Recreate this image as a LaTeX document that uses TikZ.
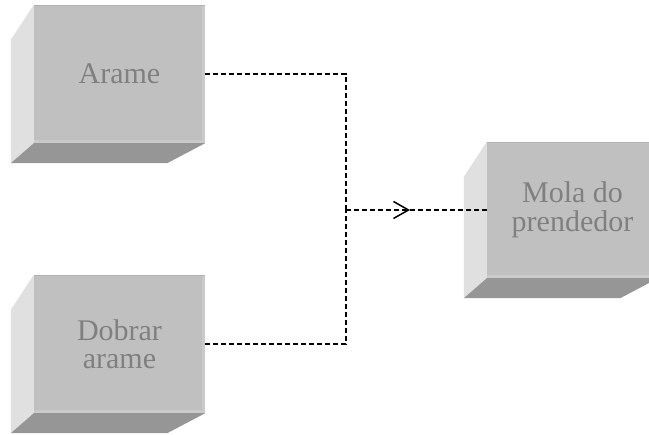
\documentclass[tikz,border=0pt]{standalone}
\usepackage{fontspec}
\setmainfont{Liberation Serif}
\usetikzlibrary{arrows.meta}
\definecolor{frontgray}{RGB}{192,192,192}
\definecolor{rimgray}{RGB}{202,202,202}
\definecolor{topgray}{RGB}{178,178,178}
\definecolor{sidegray}{RGB}{224,224,224}
\definecolor{basegray}{RGB}{150,150,150}
\definecolor{labelgray}{RGB}{128,128,128}
% side and base faces of a 3D block drawn around its front node
\newcommand\blockfaces[1]{%
  \fill[sidegray] (#1.north west) -- ++(-23,35) -- ([shift={(-23,20)}]#1.south west) -- (#1.south west) -- cycle;
  \fill[basegray] (#1.south west) -- ([shift={(-23,20)}]#1.south west) -- ([shift={(-38,20)}]#1.south east) -- (#1.south east) -- cycle;
  \fill[rimgray] ([xshift=-3pt]#1.north east) rectangle (#1.south east);
  \fill[rimgray] ([yshift=3pt]#1.south west) rectangle (#1.south east);
  \draw[topgray, line width=1pt] ([yshift=-0.5pt]#1.north west) -- ([yshift=-0.5pt]#1.north east);
}
\begin{document}
\begin{tikzpicture}[x=1pt,y=-1pt,
  block/.style={fill=frontgray, minimum width=171pt, minimum height=138pt, inner sep=0pt},
  label/.style={text=labelgray, align=center, inner sep=0pt,
    font=\fontsize{30}{28.5}\selectfont},
  flow/.style={line width=1.5pt, dash pattern=on 5pt off 3pt},
]
\useasboundingbox (0,0) rectangle (649,435);
\clip (0,0) rectangle (649,435);

\node[block] (arame) at (119.5,74) {};
\node[block] (dobrar) at (119.5,344) {};
\node[block, minimum height=136pt] (mola) at (572.5,210) {};

\blockfaces{arame}
\blockfaces{dobrar}
\blockfaces{mola}

\node[label] (t1) at (arame) {Arame};
\node[label] (t2) at (dobrar) {Dobrar\\arame};
\node[label] (t3) at (mola) {Mola do\\prendedor};

\coordinate (join) at (346,210);
\coordinate (tip) at (410,210);
\draw[flow] (arame.east) -| (join);
\draw[flow] (dobrar.east) -| (join);
\draw[flow, -{Straight Barb[length=15pt,width=17pt]}] (join) -- (tip);
\draw[flow] (tip) -- (mola.west);
\end{tikzpicture}
\end{document}
